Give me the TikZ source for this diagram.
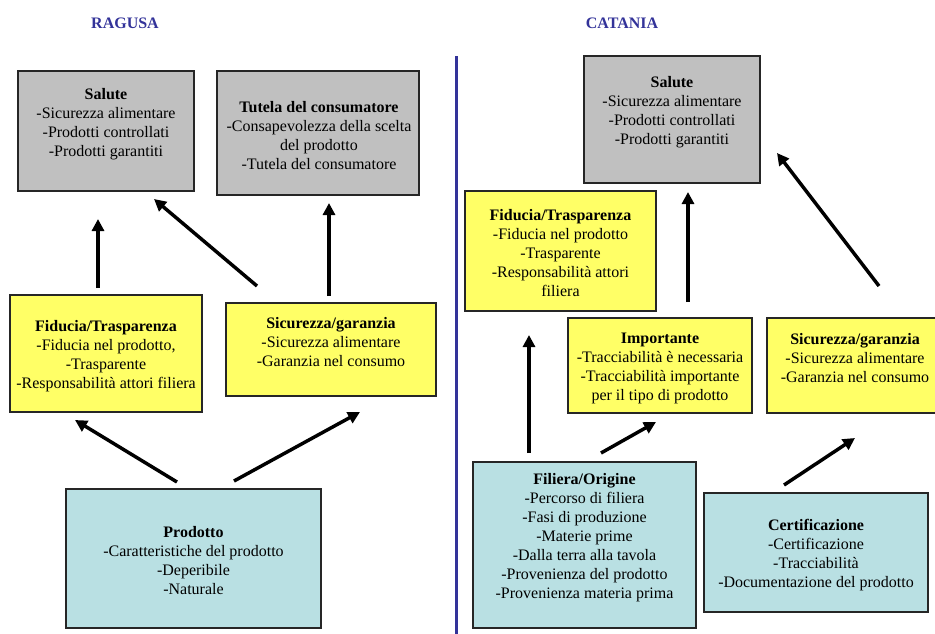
\documentclass[tikz,border=0pt]{standalone}
\usepackage{fontspec}
\setmainfont{Liberation Serif}
\usetikzlibrary{arrows.meta}
\definecolor{boxgray}{HTML}{C0C0C0}
\definecolor{boxyellow}{HTML}{FFFF66}
\definecolor{boxcyan}{HTML}{B9E0E3}
\definecolor{titleblue}{HTML}{333399}
\tikzset{
  sz/.style 2 args={minimum width=#1*0.75pt, minimum height=#2*0.75pt},
  box/.style={draw=black!85, line width=0.8pt, inner sep=0pt},
  grigio/.style={box, fill=boxgray},
  giallo/.style={box, fill=boxyellow},
  azzurro/.style={box, fill=boxcyan},
  testo/.style={inner sep=0pt, align=center, font=\fontsize{12}{14.25}\selectfont},
  titolo/.style={font=\fontsize{12}{14}\selectfont\bfseries, text=titleblue},
  freccia/.style={line width=2.6pt, -{Triangle[length=9pt,width=9pt]}},
  divisore/.style={line width=2.4pt, draw=titleblue}
}
\begin{document}
\begin{tikzpicture}[x=0.75pt, y=-0.75pt]
\useasboundingbox (0,0) rectangle (935,633);
\clip (0,0) rectangle (935,633);

% column headings and divider
\node[titolo] (ragusa) at (125,23) {RAGUSA};
\node[titolo] (catania) at (622,23) {CATANIA};
\coordinate (divtop) at (456.5,56);
\coordinate (divbot) at (456.5,640);
\draw[divisore] (divtop) -- (divbot);

% ---- Ragusa: boxes ----
\node[grigio, sz={176}{120}] (salL) at (106,131) {};
\node[grigio, sz={202}{124}] (tutL) at (318,133) {};
\node[giallo, sz={192}{117}] (fidL) at (106,353.5) {};
\node[giallo, sz={210}{93}] (sicL) at (331,349.5) {};
\node[azzurro, sz={255}{139}] (prodL) at (193.5,558.5) {};

% ---- Ragusa: texts ----
\node[testo] (salL-t) at (106,124)
  {\textbf{Salute}\\-Sicurezza alimentare\\-Prodotti controllati\\-Prodotti garantiti};
\node[testo] (tutL-t) at (319,136)
  {\textbf{Tutela del consumatore}\\-Consapevolezza della scelta\\del prodotto\\-Tutela del consumatore};
\node[testo] (fidL-t) at (106,356)
  {\textbf{Fiducia/Trasparenza}\\-Fiducia nel prodotto,\\-Trasparente\\-Responsabilità attori filiera};
\node[testo] (sicL-t) at (331,342.5)
  {\textbf{Sicurezza/garanzia}\\-Sicurezza alimentare\\-Garanzia nel consumo};
\node[testo] (prodL-t) at (193.5,561)
  {\textbf{Prodotto}\\-Caratteristiche del prodotto\\-Deperibile\\-Naturale};

% ---- Catania: boxes ----
\node[grigio, sz={176}{127}] (salR) at (672,119.5) {};
\node[giallo, sz={191}{120}] (fidR) at (560.5,251) {};
\node[giallo, sz={184}{95}] (impR) at (660,365.5) {};
\node[giallo, sz={173}{95}] (sicR) at (853.5,365.5) {};
\node[azzurro, sz={223}{166}] (filR) at (584.5,545) {};
\node[azzurro, sz={224}{119}] (cerR) at (816,552.5) {};

% ---- Catania: texts ----
\node[testo] (salR-t) at (672,112)
  {\textbf{Salute}\\-Sicurezza alimentare\\-Prodotti controllati\\-Prodotti garantiti};
\node[testo] (fidR-t) at (560.5,253.5)
  {\textbf{Fiducia/Trasparenza}\\-Fiducia nel prodotto\\-Trasparente\\-Responsabilità attori\\filiera};
\node[testo] (impR-t) at (660,368.5)
  {\textbf{Importante}\\-Tracciabilità è necessaria\\-Tracciabilità importante\\per il tipo di prodotto};
\node[testo] (sicR-t) at (855,358.5)
  {\textbf{Sicurezza/garanzia}\\-Sicurezza alimentare\\-Garanzia nel consumo};
\node[testo] (filR-t) at (584.5,537.5)
  {\textbf{Filiera/Origine}\\-Percorso di filiera\\-Fasi di produzione\\-Materie prime\\-Dalla terra alla tavola\\-Provenienza del prodotto\\-Provenienza materia prima};
\node[testo] (cerR-t) at (816,555)
  {\textbf{Certificazione}\\-Certificazione\\-Tracciabilità\\-Documentazione del prodotto};

% arrow end points (arrows stop short of the boxes)
\coordinate (fidL-s) at (98,288);   \coordinate (salL-a) at (98,219);
\coordinate (sicL-s1) at (257,286); \coordinate (salL-b) at (154,199);
\coordinate (sicL-s2) at (329,296); \coordinate (tutL-a) at (329,203);
\coordinate (prodL-s1) at (177,482); \coordinate (fidL-a) at (75,420);
\coordinate (prodL-s2) at (234,481); \coordinate (sicL-a) at (360,412);
\coordinate (impR-s) at (688,302);  \coordinate (salR-a) at (688,192);
\coordinate (sicR-s) at (879,286);  \coordinate (salR-b) at (777,153);
\coordinate (filR-s1) at (529,453); \coordinate (fidR-a) at (529,335);
\coordinate (filR-s2) at (601,453); \coordinate (impR-a) at (656,422);
\coordinate (cerR-s) at (784,485);  \coordinate (sicR-a) at (855,438);

\draw[freccia] (fidL-s) -- (salL-a);
\draw[freccia] (sicL-s1) -- (salL-b);
\draw[freccia] (sicL-s2) -- (tutL-a);
\draw[freccia] (prodL-s1) -- (fidL-a);
\draw[freccia] (prodL-s2) -- (sicL-a);
\draw[freccia] (impR-s) -- (salR-a);
\draw[freccia] (sicR-s) -- (salR-b);
\draw[freccia] (filR-s1) -- (fidR-a);
\draw[freccia] (filR-s2) -- (impR-a);
\draw[freccia] (cerR-s) -- (sicR-a);
\end{tikzpicture}
\end{document}
